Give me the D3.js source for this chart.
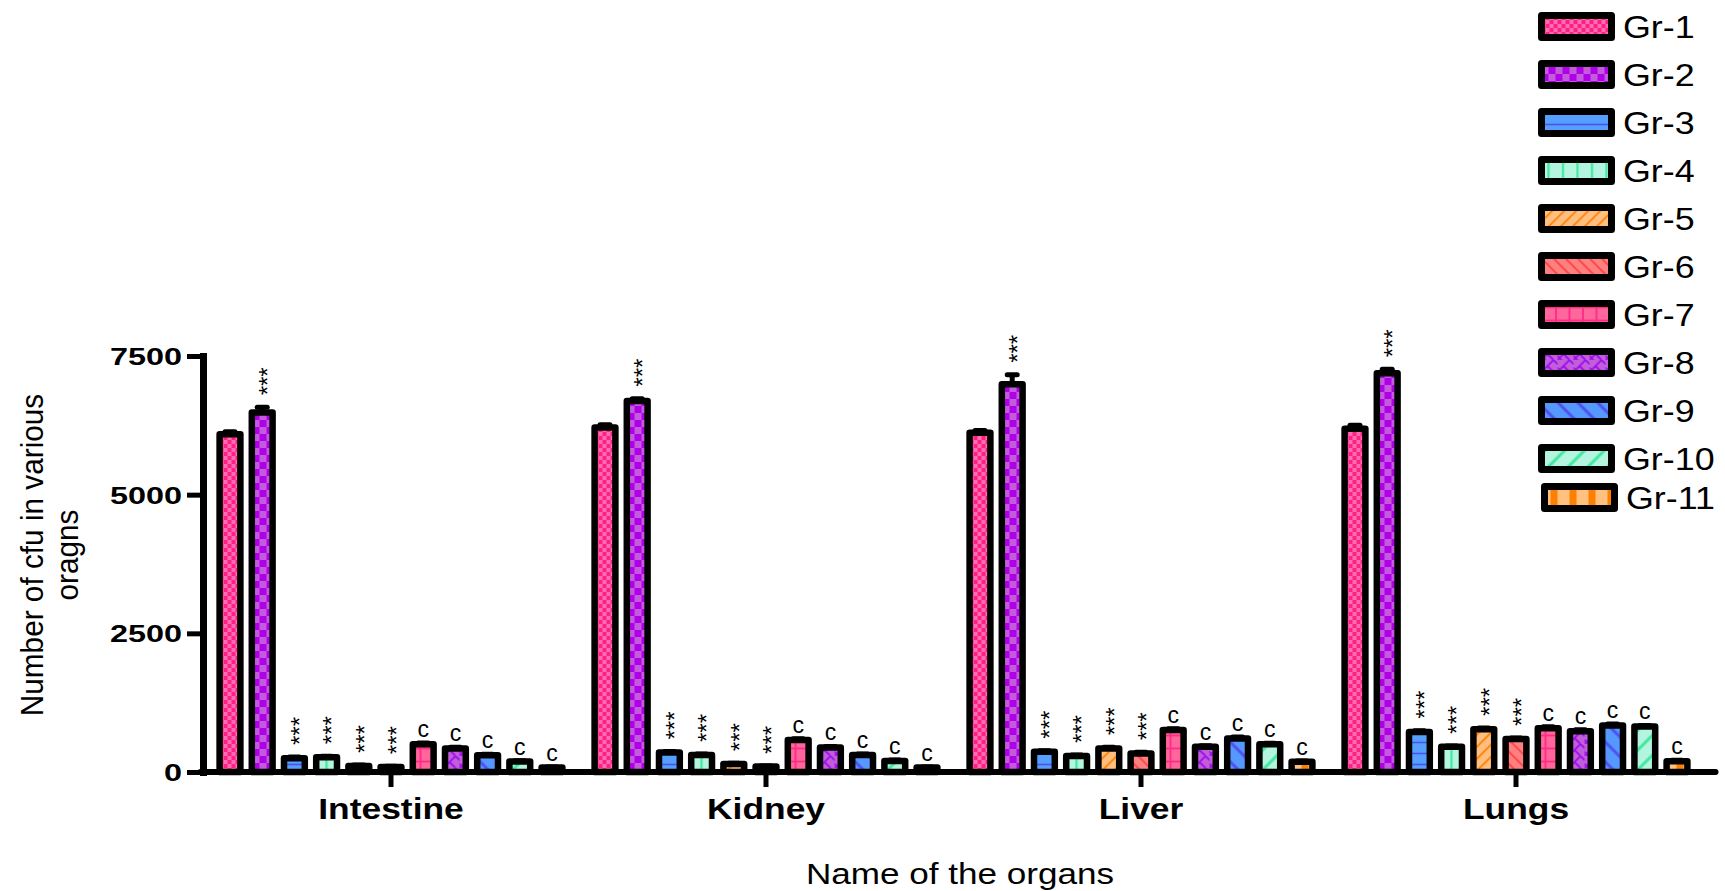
<!DOCTYPE html>
<html>
<head>
<meta charset="utf-8">
<script src="https://cdn.jsdelivr.net/npm/d3@7"></script>
<style>
  html, body { margin: 0; padding: 0; background: #fff; }
  svg { display: block; font-family: "Liberation Sans", Arial, sans-serif; }
</style>
</head>
<body>
<svg id="chart" width="1725" height="891"></svg>
<script>
// Organs on the x axis and treatment groups within each organ
const organs = ["Intestine", "Kidney", "Liver", "Lungs"];
const groups = ["Gr-1", "Gr-2", "Gr-3", "Gr-4", "Gr-5", "Gr-6", "Gr-7", "Gr-8", "Gr-9", "Gr-10", "Gr-11"];

// Mean cfu counts per group, one array per organ
const intestine = [6090, 6480, 250, 265, 110, 90, 500, 425, 300, 190, 80];
const kidney    = [6210, 6690, 350, 305, 145, 100, 575, 440, 305, 200, 80];
const liver     = [6115, 6990, 365, 290, 425, 335, 755, 455, 605, 500, 185];
const lungs     = [6190, 7190, 720, 455, 770, 595, 790, 735, 840, 820, 195];

// Standard errors per group
const intestineErr = [45, 95, 20, 20, 15, 15, 25, 20, 20, 15, 10];
const kidneyErr    = [50, 40, 20, 20, 15, 10, 25, 20, 20, 15, 10];
const liverErr     = [40, 170, 20, 15, 20, 20, 25, 20, 25, 20, 15];
const lungsErr     = [60, 70, 25, 15, 25, 20, 25, 25, 25, 20, 15];

// Significance marks above each group's bar
const marks = ["", "***", "***", "***", "***", "***", "c", "c", "c", "c", "c"];

const yTicks = [0, 2500, 5000, 7500];

const organValues = [intestine, kidney, liver, lungs];
const organErrs = [intestineErr, kidneyErr, liverErr, lungsErr];
const table = organs.map((organ, i) => ({
  organ,
  bars: groups.map((g, j) => ({ organ, group: g, idx: j, value: organValues[i][j], err: organErrs[i][j], mark: marks[j] }))
}));

const svg = d3.select("#chart");
const defs = svg.append("defs");

// Fill patterns for each group
function pattern(id, w, h, bg, draw, transform) {
  const p = defs.append("pattern").attr("id", id)
    .attr("patternUnits", "userSpaceOnUse").attr("width", w).attr("height", h);
  if (transform) p.attr("patternTransform", transform);
  p.append("rect").attr("width", w).attr("height", h).attr("fill", bg);
  draw(p);
}
pattern("p1", 8, 8, "#ff6eaa", p => {
  p.append("rect").attr("x", 0).attr("y", 0).attr("width", 4).attr("height", 4).attr("fill", "#ff1f8a");
  p.append("rect").attr("x", 4).attr("y", 4).attr("width", 4).attr("height", 4).attr("fill", "#ff1f8a");
});
pattern("p2", 14, 14, "#c25cda", p => {
  p.append("rect").attr("x", 0).attr("y", 0).attr("width", 7).attr("height", 7).attr("fill", "#b000e8");
  p.append("rect").attr("x", 7).attr("y", 7).attr("width", 7).attr("height", 7).attr("fill", "#b000e8");
});
pattern("p3", 10, 11, "#55a0ff", p => {
  p.append("line").attr("x1", 0).attr("x2", 10).attr("y1", 5.5).attr("y2", 5.5).attr("stroke", "#5050f0").attr("stroke-width", 1.6);
});
pattern("p4", 14.5, 10, "#b3f5de", p => {
  p.append("line").attr("x1", 7).attr("x2", 7).attr("y1", 0).attr("y2", 10).attr("stroke", "#40e8a0").attr("stroke-width", 2.2);
});
pattern("p5", 8.5, 10, "#ffbf80", p => {
  p.append("line").attr("x1", 4).attr("x2", 4).attr("y1", 0).attr("y2", 10).attr("stroke", "#ff8000").attr("stroke-width", 1.8);
}, "rotate(45)");
pattern("p6", 8.5, 10, "#ff8080", p => {
  p.append("line").attr("x1", 4).attr("x2", 4).attr("y1", 0).attr("y2", 10).attr("stroke", "#ff4040").attr("stroke-width", 1.8);
}, "rotate(-45)");
pattern("p7", 13.5, 13, "#ff6699", p => {
  p.append("line").attr("x1", 1).attr("x2", 1).attr("y1", 0).attr("y2", 13).attr("stroke", "#ff2a8a").attr("stroke-width", 1.8);
  p.append("line").attr("x1", 0).attr("x2", 13.5).attr("y1", 7.5).attr("y2", 7.5).attr("stroke", "#ff2a8a").attr("stroke-width", 1.8);
});
pattern("p8", 16, 12, "#bf5fdc", p => {
  p.append("path").attr("d", "M0,12 L12,0 M-4,4 L4,12 M12,0 L20,8 M6,6 L12,12").attr("stroke", "#a30cea").attr("stroke-width", 1.8).attr("fill", "none");
});
pattern("p9", 14, 10, "#5599ff", p => {
  p.append("line").attr("x1", 7).attr("x2", 7).attr("y1", 0).attr("y2", 10).attr("stroke", "#5050f0").attr("stroke-width", 3);
}, "rotate(-45)");
pattern("p10", 14, 10, "#b3f5de", p => {
  p.append("line").attr("x1", 7).attr("x2", 7).attr("y1", 0).attr("y2", 10).attr("stroke", "#40e8a0").attr("stroke-width", 3);
}, "rotate(45)");
pattern("p11", 19, 10, "#ffc080", p => {
  p.append("rect").attr("x", 6).attr("y", 0).attr("width", 7).attr("height", 10).attr("fill", "#ff8000");
});
const fillOf = i => `url(#p${i + 1})`;

// Scales
const x0 = d3.scaleBand().domain(organs).range([203.5, 1703.5]);
const x1 = d3.scaleBand().domain(groups).range([0, x0.bandwidth()]).paddingInner(0.354).paddingOuter(0.5);
const y = d3.scaleLinear().domain([0, 7500]).range([772, 356]);

const BAR_STROKE = 6.5;

// Bars
const gOrgan = svg.append("g").selectAll("g").data(table).join("g")
  .attr("transform", d => `translate(${x0(d.organ)},0)`);

gOrgan.selectAll("rect").data(d => d.bars).join("rect")
  .attr("x", d => x1(d.group))
  .attr("y", d => y(d.value))
  .attr("width", x1.bandwidth())
  .attr("height", d => y(0) - y(d.value))
  .attr("fill", d => fillOf(d.idx))
  .attr("stroke", "#000")
  .attr("stroke-width", BAR_STROKE)
  .attr("stroke-linejoin", "round");

// Error bars (upper only)
const eb = gOrgan.selectAll("g.err").data(d => d.bars).join("g").attr("class", "err")
  .attr("transform", d => `translate(${x1(d.group) + x1.bandwidth() / 2},0)`);
eb.append("line").attr("x1", 0).attr("x2", 0)
  .attr("y1", d => y(d.value)).attr("y2", d => y(d.value + d.err))
  .attr("stroke", "#000").attr("stroke-width", 5);
eb.append("line").attr("x1", -5).attr("x2", 5)
  .attr("y1", d => y(d.value + d.err)).attr("y2", d => y(d.value + d.err))
  .attr("stroke", "#000").attr("stroke-width", 5).attr("stroke-linecap", "round");

// Significance marks
eb.filter(d => d.mark === "***").append("text")
  .attr("transform", d => `translate(0,${y(d.value + d.err) - 12}) rotate(-90)`)
  .attr("dy", "0.575em")
  .attr("font-size", 24)
  .attr("fill", "#000")
  .text(d => d.mark);
eb.filter(d => d.mark === "c").append("text")
  .attr("x", 0)
  .attr("y", d => y(d.value + d.err) - 6)
  .attr("text-anchor", "middle")
  .attr("font-size", 23)
  .attr("fill", "#000")
  .text(d => d.mark);

// Y axis
const yAxis = svg.append("g").attr("transform", "translate(203,0)")
  .call(d3.axisLeft(y).tickValues(yTicks).tickSize(16).tickSizeOuter(0).tickFormat(d3.format("d")));
yAxis.select(".domain").attr("stroke", "#000").attr("stroke-width", 7).attr("stroke-linecap", "square");
yAxis.selectAll(".tick line").attr("stroke", "#000").attr("stroke-width", 5);
yAxis.selectAll(".tick text")
  .attr("x", -21 / 1.35).attr("dy", "0.36em")
  .attr("transform", "scale(1.35,1)")
  .attr("font-size", 24).attr("font-weight", "bold")
  .attr("font-family", "'Liberation Sans', Arial, sans-serif")
  .attr("fill", "#000");

// X axis
const xAxis = svg.append("g").attr("transform", `translate(0,${y(0)})`)
  .call(d3.axisBottom(x0).tickSize(15).tickSizeOuter(0));
xAxis.select(".domain").remove();
xAxis.insert("line", ":first-child")
  .attr("x1", x0.range()[0] - 3).attr("x2", x0.range()[1] + 12)
  .attr("stroke", "#000").attr("stroke-width", 6).attr("stroke-linecap", "round");
xAxis.selectAll(".tick line").attr("stroke", "#000").attr("stroke-width", 5);
xAxis.selectAll(".tick text")
  .attr("y", 47).attr("dy", 0)
  .attr("transform", "scale(1.18,1)")
  .attr("font-size", 30).attr("font-weight", "bold")
  .attr("font-family", "'Liberation Sans', Arial, sans-serif")
  .attr("fill", "#000");

// Axis titles
svg.append("text")
  .attr("transform", "translate(960,884) scale(1.17,1)")
  .attr("text-anchor", "middle")
  .attr("font-size", 30)
  .attr("fill", "#000")
  .text("Name of the organs");

const yTitle = ["Number of cfu in various", "oragns"];
svg.selectAll("text.ytitle").data(yTitle).join("text").attr("class", "ytitle")
  .attr("transform", (d, i) => `translate(${43 + i * 35},555) rotate(-90) scale(0.93,1)`)
  .attr("text-anchor", "middle")
  .attr("font-size", 32)
  .attr("fill", "#000")
  .text(d => d);

// Legend
const rowTop = i => (i < 10 ? 12 + 48 * i : 12 + 48 * 9 + 39);
const rowShift = i => (i < 10 ? 0 : 3);
const legend = svg.append("g").selectAll("g").data(groups).join("g")
  .attr("transform", (d, i) => `translate(${1541.5 + rowShift(i)},${rowTop(i)})`);
legend.append("rect")
  .attr("x", 0).attr("y", 3.5).attr("width", 70).attr("height", 22)
  .attr("fill", (d, i) => fillOf(i))
  .attr("stroke", "#000").attr("stroke-width", 7).attr("stroke-linejoin", "round");
legend.append("text")
  .attr("transform", "translate(81.5,26) scale(1.12,1)")
  .attr("font-size", 32)
  .attr("fill", "#000")
  .text(d => d);
</script>
</body>
</html>
